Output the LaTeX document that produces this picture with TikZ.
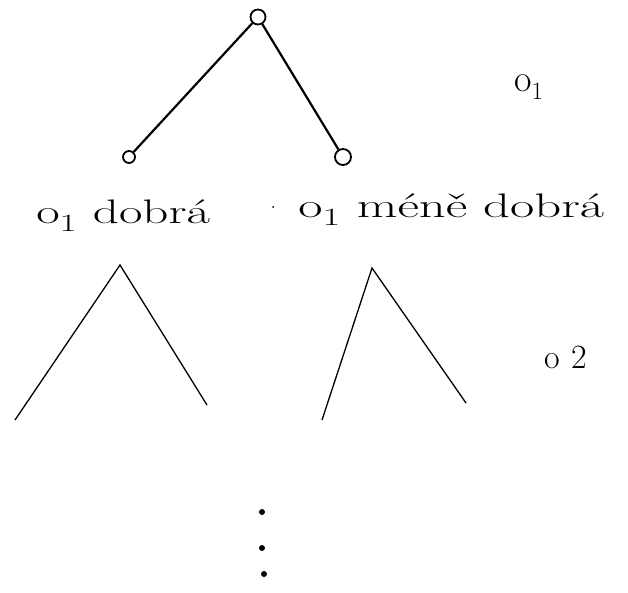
\documentclass[tikz,border=0pt]{standalone}
\begin{document}
\begin{tikzpicture}[x=1pt,y=-1pt,
  vert/.style={circle,draw,line width=1.8pt,inner sep=0pt},
  edge/.style={line width=2.2pt},
  lbl/.style={inner sep=0pt,font=\fontsize{34}{40}\selectfont},
  stroke/.style={line width=1.3pt},
  dotm/.style={fill,circle,inner sep=0pt,minimum size=6pt}]
\useasboundingbox (0,0) rectangle (628,593);
% top tree
\node[vert,minimum size=15pt] (r) at (258,17) {};
\node[vert,minimum size=12pt] (a) at (129,157) {};
\node[vert,minimum size=16pt] (b) at (343,157) {};
\draw[edge] (r) -- (a);
\draw[edge] (r) -- (b);
\node[lbl,anchor=base west,font=\fontsize{38}{44}\selectfont] (t1) at (514,92) {o$_1$};
% leaf labels
\node[lbl,anchor=base west,xscale=1.5] (l1) at (36,224) {o$_1$ dobrá};
\node[dotm,minimum size=2pt] (sp) at (273,207) {};
\node[lbl,anchor=base west,xscale=1.55] (l2) at (298,218) {o$_1$ méně dobrá};
% lower subtrees
\coordinate (p1) at (120,265);
\coordinate (p1l) at (15,420);
\coordinate (p1r) at (207,405);
\draw[stroke] (p1l) -- (p1) -- (p1r);
\coordinate (p2) at (372,268);
\coordinate (p2l) at (322,420);
\coordinate (p2r) at (466,403);
\draw[stroke] (p2l) -- (p2) -- (p2r);
\node[lbl,anchor=base west,font=\fontsize{34}{40}\selectfont] (t2) at (544,368) {o\,\,2};
% ellipsis dots
\node[dotm] (d1) at (262,512) {};
\node[dotm] (d2) at (262,548) {};
\node[dotm] (d3) at (264,574) {};
\end{tikzpicture}
\end{document}
